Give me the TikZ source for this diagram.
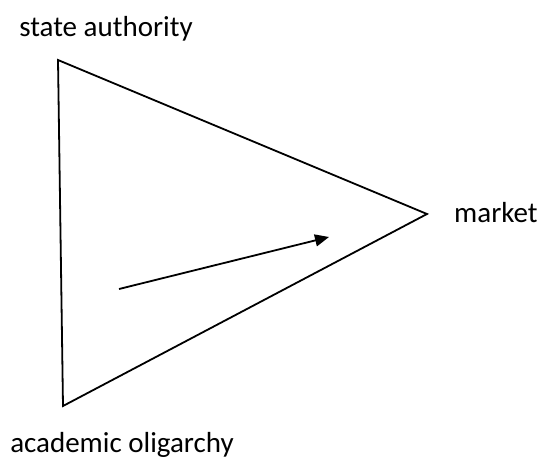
\documentclass[tikz,border=0pt]{standalone}
\usepackage{fontspec}
\setmainfont{Carlito}
\usetikzlibrary{arrows.meta}
\begin{document}
\begin{tikzpicture}[x=1pt,y=-1pt,
  edge/.style={line width=1.8pt, line join=miter},
  flow/.style={line width=1.8pt, -{Triangle[length=14pt,width=12pt]}},
  label/.style={font=\fontsize{29}{33}\selectfont, inner sep=0pt}]
  \useasboundingbox (0,0) rectangle (539,459);
  % corners of the triangle
  \coordinate (sa) at (58,60);
  \coordinate (mk) at (427,214);
  \coordinate (ao) at (63,406);
  \draw[edge] (sa) -- (mk) -- (ao) -- cycle;
  % corner labels
  \node[label, anchor=base] (tsa) at (106,36) {state authority};
  \node[label, anchor=base west] (tmk) at (454,222) {market};
  \node[label, anchor=base] (tao) at (122,452) {academic oligarchy};
  % direction of movement
  \coordinate (from) at (119,289);
  \coordinate (to) at (329,237);
  \draw[flow] (from) -- (to);
\end{tikzpicture}
\end{document}
